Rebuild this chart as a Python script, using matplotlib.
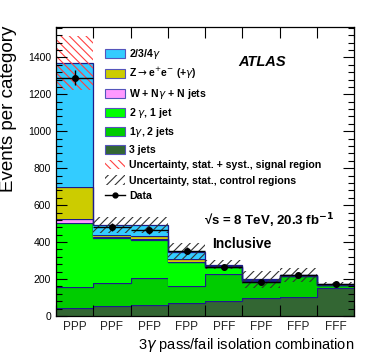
import numpy as np
import matplotlib
matplotlib.use("Agg")
import matplotlib.pyplot as plt
from matplotlib.patches import Patch
from matplotlib.lines import Line2D

plt.rcParams['font.family'] = ['Liberation Sans', 'DejaVu Sans']
plt.rcParams['hatch.linewidth'] = 0.8

categories = ["PPP", "PPF", "PFP", "FPP", "PFF", "FPF", "FFP", "FFF"]
three_jets = [43, 56, 60, 69, 82, 96, 103, 150]
one_gam_two_jets = [114, 122, 145, 92, 143, 87, 111, 15]
two_gam_one_jet = [345, 244, 208, 129, 38, 7, 3, 3]
w_ngam = [21, 4, 5, 4, 2, 2, 1, 1]
z_ee = [174, 13, 15, 12, 4, 3, 1, 1]
multi_gam = [674, 51, 60, 42, 9, 4, 2, 2]
data = [1290, 480, 467, 353, 266, 186, 221, 172]
data_err = [40, 22, 22, 19, 16, 14, 15, 13]
signal_unc = [145, 0, 0, 0, 0, 0, 0, 0]
control_unc = [0, 43, 43, 47, 25, 46, 36, 10]

components = [
    (three_jets, '#336633', '3 jets'),
    (one_gam_two_jets, '#00cc00', '1$\\gamma$, 2 jets'),
    (two_gam_one_jet, '#00ff00', '2 $\\gamma$, 1 jet'),
    (w_ngam, '#ff99ff', 'W + N$\\gamma$ + N jets'),
    (z_ee, '#cccc00', 'Z$\\rightarrow$e$^{+}$e$^{-}$ (+$\\gamma$)'),
    (multi_gam, '#33ccff', '2/3/4$\\gamma$'),
]

n = len(categories)
edges = np.arange(n + 1)
centers = np.arange(n) + 0.5

fig = plt.figure(figsize=(3.74, 3.59), dpi=100)
ax = fig.add_axes([0.150, 0.120, 0.797, 0.805])

line_col = '#1c1c8a'
base = np.zeros(n)
for vals, col, lab in components:
    top = base + np.array(vals, dtype=float)
    ax.stairs(top, edges, baseline=base.copy(), fill=True, color=col, lw=0)
    ax.stairs(top, edges, baseline=None, color=line_col, lw=0.9)
    base = top
total = base

# uncertainty bands
su = np.array(signal_unc, float)
cu = np.array(control_unc, float)
for i in range(n):
    if su[i] > 0:
        ax.bar(centers[i], 2 * su[i], bottom=total[i] - su[i], width=1.0,
               facecolor='none', edgecolor='#ff4040', hatch='\\\\\\\\', lw=0)
    if cu[i] > 0:
        ax.bar(centers[i], 2 * cu[i], bottom=total[i] - cu[i], width=1.0,
               facecolor='none', edgecolor='#333333', hatch='////', lw=0)

ax.errorbar(centers, data, xerr=0.5, yerr=data_err, fmt='o', color='black',
            ms=4, lw=1.0, capsize=0)

ax.set_xlim(0, n)
ax.set_ylim(0, 1565)
ax.set_xticks(edges)
ax.set_xticklabels([])
ax.set_xticks(centers, minor=True)
ax.set_xticklabels(categories, minor=True, fontsize=8.5, color='#222222')
ax.tick_params(axis='x', which='minor', length=0, pad=4)
ax.tick_params(axis='x', which='major', direction='in', length=8, top=True, width=0.8)
ax.set_yticks(np.arange(0, 1401, 200))
ax.set_yticks(np.arange(0, 1561, 40), minor=True)
ax.tick_params(axis='y', which='major', direction='in', length=8, right=True, width=0.8, labelsize=7.5)
ax.tick_params(axis='y', which='minor', direction='in', length=4, right=True, width=0.8)
for s in ax.spines.values():
    s.set_linewidth(0.9)

ax.set_xlabel('3$\\gamma$ pass/fail isolation combination', fontsize=10.5, loc='right', labelpad=2)
ax.set_ylabel('Events per category', fontsize=13.5, loc='top')
ax.yaxis.set_label_coords(-0.13, 1.005)

handles = [Patch(facecolor=c, edgecolor='#5555bb', lw=0.8, label=l) for v, c, l in components[::-1]]
handles.append(Patch(facecolor='white', edgecolor='#ff4040', hatch='\\\\\\\\', lw=0,
                     label='Uncertainty, stat. + syst., signal region'))
handles.append(Patch(facecolor='white', edgecolor='#333333', hatch='////', lw=0,
                     label='Uncertainty, stat., control regions'))
handles.append(Line2D([], [], color='black', marker='o', ms=3.5, lw=1, label='Data'))
leg = ax.legend(handles=handles, loc='upper left', bbox_to_anchor=(0.15, 0.945),
                frameon=False, fontsize=7.6, handlelength=1.85, handleheight=0.95,
                labelspacing=0.5, handletextpad=0.45, borderaxespad=0)
for t in leg.get_texts():
    t.set_fontweight('bold')

ax.text(0.69, 0.88, 'ATLAS', transform=ax.transAxes, fontsize=10.5,
        fontweight='bold', fontstyle='italic', ha='center', va='center')
ax.text(0.495, 0.33, '√s = 8 TeV, 20.3 fb$^{\\mathbf{-1}}$', transform=ax.transAxes,
        fontsize=9.5, fontweight='bold', ha='left', va='center')
ax.text(0.525, 0.25, 'Inclusive', transform=ax.transAxes,
        fontsize=10, fontweight='bold', ha='left', va='center')

fig.savefig('out.png', dpi=100)
